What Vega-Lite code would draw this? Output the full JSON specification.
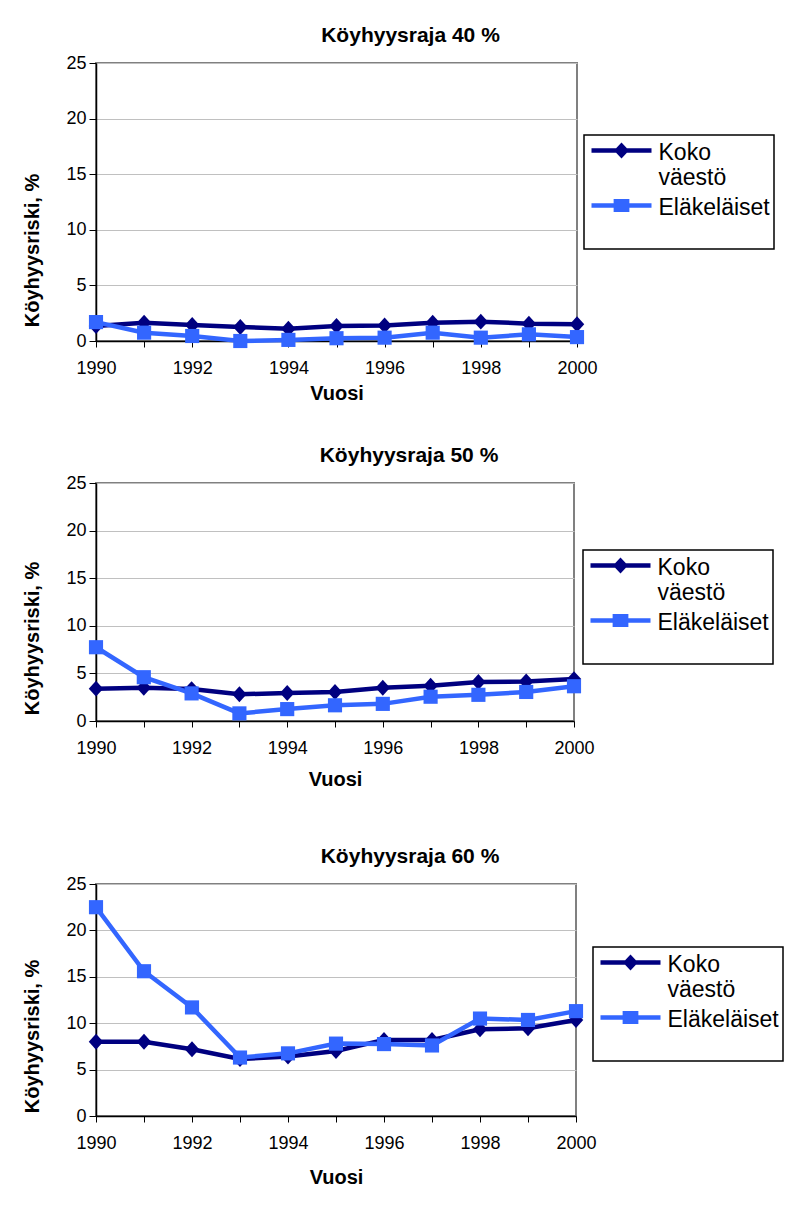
{
  "$schema": "https://vega.github.io/schema/vega-lite/v6.json",
  "background": "white",
  "autosize": {"type": "pad"},
  "padding": {"left": 21, "top": 24, "right": 5, "bottom": 5},
  "config": {
    "font": "Liberation Sans",
    "view": {"stroke": "#808080", "strokeWidth": 2},
    "axis": {
      "domainColor": "#000000", "domainWidth": 1.5,
      "tickColor": "#000000", "tickWidth": 1,
      "labelColor": "#000000", "labelFont": "Liberation Sans", "labelFontSize": 18,
      "titleColor": "#000000", "titleFont": "Liberation Sans", "titleFontWeight": "bold", "titleFontSize": 20,
      "gridColor": "#c0c0c0", "gridWidth": 1
    },
    "legend": {
      "orient": "none", "title": null, "fillColor": "white", "strokeColor": "#000000", "padding": 4,
      "symbolSize": 225, "symbolOffset": 22, "labelOffset": 25.5, "labelFontSize": 23, "labelFont": "Liberation Sans",
      "labelColor": "#000000", "labelBaseline": "middle", "rowPadding": 4, "labelLimit": 300, "symbolOpacity": 1, "symbolStrokeWidth": 0
    },
    "title": {"font": "Liberation Sans", "fontSize": 21, "fontWeight": "bold", "color": "#000000", "anchor": "middle", "offset": 8},
    "concat": {"spacing": 40}
  },
  "data": {"values": [
    {"raja": "40", "vuosi": 1990, "ryhma": "Koko väestö", "arvo": 1.35},
    {"raja": "40", "vuosi": 1991, "ryhma": "Koko väestö", "arvo": 1.65},
    {"raja": "40", "vuosi": 1992, "ryhma": "Koko väestö", "arvo": 1.44},
    {"raja": "40", "vuosi": 1993, "ryhma": "Koko väestö", "arvo": 1.26},
    {"raja": "40", "vuosi": 1994, "ryhma": "Koko väestö", "arvo": 1.1},
    {"raja": "40", "vuosi": 1995, "ryhma": "Koko väestö", "arvo": 1.35},
    {"raja": "40", "vuosi": 1996, "ryhma": "Koko väestö", "arvo": 1.4},
    {"raja": "40", "vuosi": 1997, "ryhma": "Koko väestö", "arvo": 1.65},
    {"raja": "40", "vuosi": 1998, "ryhma": "Koko väestö", "arvo": 1.74},
    {"raja": "40", "vuosi": 1999, "ryhma": "Koko väestö", "arvo": 1.56},
    {"raja": "40", "vuosi": 2000, "ryhma": "Koko väestö", "arvo": 1.5},
    {"raja": "40", "vuosi": 1990, "ryhma": "Eläkeläiset", "arvo": 1.7},
    {"raja": "40", "vuosi": 1991, "ryhma": "Eläkeläiset", "arvo": 0.75},
    {"raja": "40", "vuosi": 1992, "ryhma": "Eläkeläiset", "arvo": 0.45},
    {"raja": "40", "vuosi": 1993, "ryhma": "Eläkeläiset", "arvo": 0.0},
    {"raja": "40", "vuosi": 1994, "ryhma": "Eläkeläiset", "arvo": 0.1},
    {"raja": "40", "vuosi": 1995, "ryhma": "Eläkeläiset", "arvo": 0.25},
    {"raja": "40", "vuosi": 1996, "ryhma": "Eläkeläiset", "arvo": 0.3},
    {"raja": "40", "vuosi": 1997, "ryhma": "Eläkeläiset", "arvo": 0.75},
    {"raja": "40", "vuosi": 1998, "ryhma": "Eläkeläiset", "arvo": 0.3},
    {"raja": "40", "vuosi": 1999, "ryhma": "Eläkeläiset", "arvo": 0.6},
    {"raja": "40", "vuosi": 2000, "ryhma": "Eläkeläiset", "arvo": 0.35},
    {"raja": "50", "vuosi": 1990, "ryhma": "Koko väestö", "arvo": 3.4},
    {"raja": "50", "vuosi": 1991, "ryhma": "Koko väestö", "arvo": 3.5},
    {"raja": "50", "vuosi": 1992, "ryhma": "Koko väestö", "arvo": 3.35},
    {"raja": "50", "vuosi": 1993, "ryhma": "Koko väestö", "arvo": 2.8},
    {"raja": "50", "vuosi": 1994, "ryhma": "Koko väestö", "arvo": 2.95},
    {"raja": "50", "vuosi": 1995, "ryhma": "Koko väestö", "arvo": 3.05},
    {"raja": "50", "vuosi": 1996, "ryhma": "Koko väestö", "arvo": 3.5},
    {"raja": "50", "vuosi": 1997, "ryhma": "Koko väestö", "arvo": 3.7},
    {"raja": "50", "vuosi": 1998, "ryhma": "Koko väestö", "arvo": 4.1},
    {"raja": "50", "vuosi": 1999, "ryhma": "Koko väestö", "arvo": 4.15},
    {"raja": "50", "vuosi": 2000, "ryhma": "Koko väestö", "arvo": 4.4},
    {"raja": "50", "vuosi": 1990, "ryhma": "Eläkeläiset", "arvo": 7.75},
    {"raja": "50", "vuosi": 1991, "ryhma": "Eläkeläiset", "arvo": 4.6},
    {"raja": "50", "vuosi": 1992, "ryhma": "Eläkeläiset", "arvo": 2.9},
    {"raja": "50", "vuosi": 1993, "ryhma": "Eläkeläiset", "arvo": 0.8},
    {"raja": "50", "vuosi": 1994, "ryhma": "Eläkeläiset", "arvo": 1.25},
    {"raja": "50", "vuosi": 1995, "ryhma": "Eläkeläiset", "arvo": 1.65},
    {"raja": "50", "vuosi": 1996, "ryhma": "Eläkeläiset", "arvo": 1.8},
    {"raja": "50", "vuosi": 1997, "ryhma": "Eläkeläiset", "arvo": 2.55},
    {"raja": "50", "vuosi": 1998, "ryhma": "Eläkeläiset", "arvo": 2.75},
    {"raja": "50", "vuosi": 1999, "ryhma": "Eläkeläiset", "arvo": 3.05},
    {"raja": "50", "vuosi": 2000, "ryhma": "Eläkeläiset", "arvo": 3.65},
    {"raja": "60", "vuosi": 1990, "ryhma": "Koko väestö", "arvo": 8.0},
    {"raja": "60", "vuosi": 1991, "ryhma": "Koko väestö", "arvo": 8.0},
    {"raja": "60", "vuosi": 1992, "ryhma": "Koko väestö", "arvo": 7.2},
    {"raja": "60", "vuosi": 1993, "ryhma": "Koko väestö", "arvo": 6.15},
    {"raja": "60", "vuosi": 1994, "ryhma": "Koko väestö", "arvo": 6.4},
    {"raja": "60", "vuosi": 1995, "ryhma": "Koko väestö", "arvo": 7.0},
    {"raja": "60", "vuosi": 1996, "ryhma": "Koko väestö", "arvo": 8.2},
    {"raja": "60", "vuosi": 1997, "ryhma": "Koko väestö", "arvo": 8.2},
    {"raja": "60", "vuosi": 1998, "ryhma": "Koko väestö", "arvo": 9.35},
    {"raja": "60", "vuosi": 1999, "ryhma": "Koko väestö", "arvo": 9.45},
    {"raja": "60", "vuosi": 2000, "ryhma": "Koko väestö", "arvo": 10.35},
    {"raja": "60", "vuosi": 1990, "ryhma": "Eläkeläiset", "arvo": 22.5},
    {"raja": "60", "vuosi": 1991, "ryhma": "Eläkeläiset", "arvo": 15.6},
    {"raja": "60", "vuosi": 1992, "ryhma": "Eläkeläiset", "arvo": 11.7},
    {"raja": "60", "vuosi": 1993, "ryhma": "Eläkeläiset", "arvo": 6.3},
    {"raja": "60", "vuosi": 1994, "ryhma": "Eläkeläiset", "arvo": 6.75},
    {"raja": "60", "vuosi": 1995, "ryhma": "Eläkeläiset", "arvo": 7.8},
    {"raja": "60", "vuosi": 1996, "ryhma": "Eläkeläiset", "arvo": 7.75},
    {"raja": "60", "vuosi": 1997, "ryhma": "Eläkeläiset", "arvo": 7.6},
    {"raja": "60", "vuosi": 1998, "ryhma": "Eläkeläiset", "arvo": 10.5},
    {"raja": "60", "vuosi": 1999, "ryhma": "Eläkeläiset", "arvo": 10.35},
    {"raja": "60", "vuosi": 2000, "ryhma": "Eläkeläiset", "arvo": 11.3}
  ]},
  "resolve": {"scale": {"color": "independent", "shape": "independent"}, "legend": {"color": "independent", "shape": "independent"}},
  "vconcat": [
    {
      "title": {"text": "Köyhyysraja 40 %", "dx": 74},
      "width": 481, "height": 278,
      "transform": [{"filter": "datum.raja == '40'"}],
      "encoding": {
        "x": {"field": "vuosi", "type": "quantitative", "scale": {"domain": [1990, 2000], "nice": false, "zero": false},
          "axis": {"title": "Vuosi", "values": [1990,1991,1992,1993,1994,1995,1996,1997,1998,1999,2000], "format": "d", "labelExpr": "datum.value % 2 == 0 ? datum.label : ''", "grid": false, "tickSize": 6, "labelPadding": 12, "labelFlush": false, "labelOverlap": false, "titleY": 52, "titleBaseline": "middle"}},
        "y": {"field": "arvo", "type": "quantitative", "scale": {"domain": [0, 25], "nice": false},
          "axis": {"title": "Köyhyysriski, %", "values": [0,5,10,15,20,25], "grid": true, "tickSize": 7, "labelPadding": 3, "titleX": -58, "titleY": 187, "titleBaseline": "alphabetic", "titleAngle": -90, "titleAlign": "center"}},
        "color": {"field": "ryhma", "type": "nominal", "scale": {"domain": ["Koko väestö", "Eläkeläiset"], "range": ["#000080", "#3366FF"]},
          "legend": {"legendX": 488, "legendY": 72, "labelExpr": "datum.label == 'Koko väestö' ? ['Koko', 'väestö'] : [datum.label, '']",
            "encode": {"legend": {"update": {"strokeWidth": {"value": 1.5}}}, "labels": {"update": {"dy": {"value": 2}, "lineHeight": {"value": 25}}}}}}
      },
      "layer": [
        {"mark": {"type": "line", "strokeWidth": 4.5}},
        {"transform": [{"filter": "datum.ryhma == 'Koko väestö'"}],
          "mark": {"type": "point", "filled": true, "opacity": 1, "strokeWidth": 0, "shape": "M0,-1.1L1,0L0,1.1L-1,0Z", "size": 210}},
        {"transform": [{"filter": "datum.ryhma == 'Eläkeläiset'"}],
          "mark": {"type": "point", "filled": true, "opacity": 1, "strokeWidth": 0, "shape": "square", "size": 200}},
        {"mark": {"type": "point", "filled": true, "opacity": 0},
          "encoding": {
            "shape": {"field": "ryhma", "type": "nominal", "scale": {"domain": ["Koko väestö", "Eläkeläiset"], "range": ["M-4,-0.3L4,-0.3L4,0.3L-4,0.3Z M0,-1.07L1,0L0,1.07L-1,0Z", "M-4,-0.3L4,-0.3L4,0.3L-4,0.3Z M-1.05,-0.87L1.05,-0.87L1.05,0.87L-1.05,0.87Z"]},
              "legend": {"legendX": 488, "legendY": 72, "labelExpr": "datum.label == 'Koko väestö' ? ['Koko', 'väestö'] : [datum.label, '']",
                "encode": {"legend": {"update": {"strokeWidth": {"value": 1.5}}}, "labels": {"update": {"dy": {"value": 2}, "lineHeight": {"value": 25}}}}}}
          }}
      ]
    },
    {
      "title": {"text": "Köyhyysraja 50 %", "dx": 74},
      "width": 478, "height": 238,
      "transform": [{"filter": "datum.raja == '50'"}],
      "encoding": {
        "x": {"field": "vuosi", "type": "quantitative", "scale": {"domain": [1990, 2000], "nice": false, "zero": false},
          "axis": {"title": ["Vuosi", " "], "titleLineHeight": 15, "values": [1990,1991,1992,1993,1994,1995,1996,1997,1998,1999,2000], "format": "d", "labelExpr": "datum.value % 2 == 0 ? datum.label : ''", "grid": false, "tickSize": 6, "labelPadding": 12, "labelFlush": false, "labelOverlap": false, "titleY": 58, "titleBaseline": "middle"}},
        "y": {"field": "arvo", "type": "quantitative", "scale": {"domain": [0, 25], "nice": false},
          "axis": {"title": "Köyhyysriski, %", "values": [0,5,10,15,20,25], "grid": true, "tickSize": 7, "labelPadding": 3, "titleX": -58, "titleY": 155, "titleBaseline": "alphabetic", "titleAngle": -90, "titleAlign": "center"}},
        "color": {"field": "ryhma", "type": "nominal", "scale": {"domain": ["Koko väestö", "Eläkeläiset"], "range": ["#000080", "#3366FF"]},
          "legend": {"legendX": 487, "legendY": 67, "labelExpr": "datum.label == 'Koko väestö' ? ['Koko', 'väestö'] : [datum.label, '']",
            "encode": {"legend": {"update": {"strokeWidth": {"value": 1.5}}}, "labels": {"update": {"dy": {"value": 2}, "lineHeight": {"value": 25}}}}}}
      },
      "layer": [
        {"mark": {"type": "line", "strokeWidth": 4.5}},
        {"transform": [{"filter": "datum.ryhma == 'Koko väestö'"}],
          "mark": {"type": "point", "filled": true, "opacity": 1, "strokeWidth": 0, "shape": "M0,-1.1L1,0L0,1.1L-1,0Z", "size": 210}},
        {"transform": [{"filter": "datum.ryhma == 'Eläkeläiset'"}],
          "mark": {"type": "point", "filled": true, "opacity": 1, "strokeWidth": 0, "shape": "square", "size": 200}},
        {"mark": {"type": "point", "filled": true, "opacity": 0},
          "encoding": {
            "shape": {"field": "ryhma", "type": "nominal", "scale": {"domain": ["Koko väestö", "Eläkeläiset"], "range": ["M-4,-0.3L4,-0.3L4,0.3L-4,0.3Z M0,-1.07L1,0L0,1.07L-1,0Z", "M-4,-0.3L4,-0.3L4,0.3L-4,0.3Z M-1.05,-0.87L1.05,-0.87L1.05,0.87L-1.05,0.87Z"]},
              "legend": {"legendX": 487, "legendY": 67, "labelExpr": "datum.label == 'Koko väestö' ? ['Koko', 'väestö'] : [datum.label, '']",
                "encode": {"legend": {"update": {"strokeWidth": {"value": 1.5}}}, "labels": {"update": {"dy": {"value": 2}, "lineHeight": {"value": 25}}}}}}
          }}
      ]
    },
    {
      "title": {"text": "Köyhyysraja 60 %", "dx": 74},
      "width": 480, "height": 232,
      "transform": [{"filter": "datum.raja == '60'"}],
      "encoding": {
        "x": {"field": "vuosi", "type": "quantitative", "scale": {"domain": [1990, 2000], "nice": false, "zero": false},
          "axis": {"title": "Vuosi", "values": [1990,1991,1992,1993,1994,1995,1996,1997,1998,1999,2000], "format": "d", "labelExpr": "datum.value % 2 == 0 ? datum.label : ''", "grid": false, "tickSize": 6, "labelPadding": 12, "labelFlush": false, "labelOverlap": false, "titleY": 61, "titleBaseline": "middle"}},
        "y": {"field": "arvo", "type": "quantitative", "scale": {"domain": [0, 25], "nice": false},
          "axis": {"title": "Köyhyysriski, %", "values": [0,5,10,15,20,25], "grid": true, "tickSize": 7, "labelPadding": 3, "titleX": -58, "titleY": 152, "titleBaseline": "alphabetic", "titleAngle": -90, "titleAlign": "center"}},
        "color": {"field": "ryhma", "type": "nominal", "scale": {"domain": ["Koko väestö", "Eläkeläiset"], "range": ["#000080", "#3366FF"]},
          "legend": {"legendX": 497, "legendY": 63, "labelExpr": "datum.label == 'Koko väestö' ? ['Koko', 'väestö'] : [datum.label, '']",
            "encode": {"legend": {"update": {"strokeWidth": {"value": 1.5}}}, "labels": {"update": {"dy": {"value": 2}, "lineHeight": {"value": 25}}}}}}
      },
      "layer": [
        {"mark": {"type": "line", "strokeWidth": 4.5}},
        {"transform": [{"filter": "datum.ryhma == 'Koko väestö'"}],
          "mark": {"type": "point", "filled": true, "opacity": 1, "strokeWidth": 0, "shape": "M0,-1.1L1,0L0,1.1L-1,0Z", "size": 210}},
        {"transform": [{"filter": "datum.ryhma == 'Eläkeläiset'"}],
          "mark": {"type": "point", "filled": true, "opacity": 1, "strokeWidth": 0, "shape": "square", "size": 200}},
        {"mark": {"type": "point", "filled": true, "opacity": 0},
          "encoding": {
            "shape": {"field": "ryhma", "type": "nominal", "scale": {"domain": ["Koko väestö", "Eläkeläiset"], "range": ["M-4,-0.3L4,-0.3L4,0.3L-4,0.3Z M0,-1.07L1,0L0,1.07L-1,0Z", "M-4,-0.3L4,-0.3L4,0.3L-4,0.3Z M-1.05,-0.87L1.05,-0.87L1.05,0.87L-1.05,0.87Z"]},
              "legend": {"legendX": 497, "legendY": 63, "labelExpr": "datum.label == 'Koko väestö' ? ['Koko', 'väestö'] : [datum.label, '']",
                "encode": {"legend": {"update": {"strokeWidth": {"value": 1.5}}}, "labels": {"update": {"dy": {"value": 2}, "lineHeight": {"value": 25}}}}}}
          }}
      ]
    }
  ]
}
